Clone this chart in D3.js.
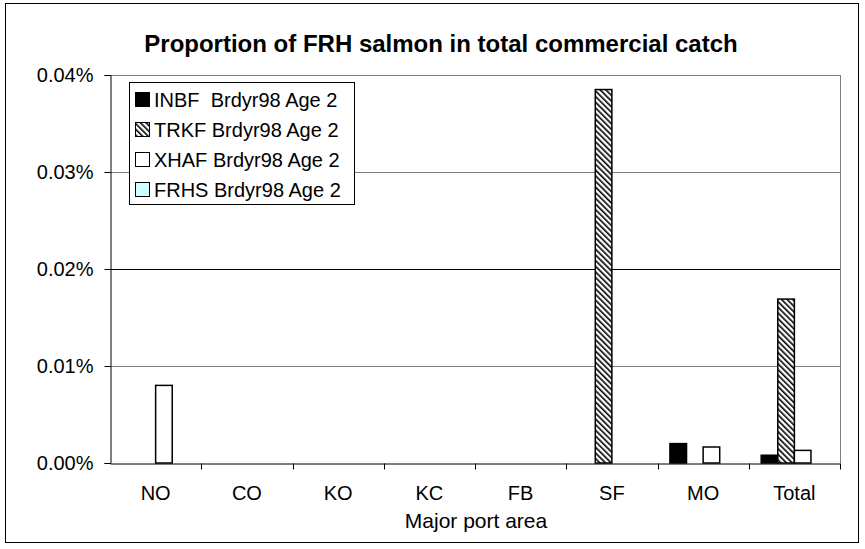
<!DOCTYPE html>
<html><head>
<meta charset="utf-8">
<title>Proportion of FRH salmon in total commercial catch</title>
<script src="https://cdnjs.cloudflare.com/ajax/libs/d3/7.8.5/d3.min.js"></script>
<style>
body { margin: 0; background: #fff; }
text { font-family: Arial, "Liberation Sans", sans-serif; }
</style>
</head>
<body>
<div id="chart"></div>
<script>
// values are proportions in percent
const ports = ["NO", "CO", "KO", "KC", "FB", "SF", "MO", "Total"];
const seriesNames = ["INBF  Brdyr98 Age 2", "TRKF Brdyr98 Age 2", "XHAF Brdyr98 Age 2", "FRHS Brdyr98 Age 2"];
const inbf = [0, 0, 0, 0, 0, 0, 0.0020, 0.0008];
const trkf = [0, 0, 0, 0, 0, 0.0385, 0, 0.0169];
const xhaf = [0.0080, 0, 0, 0, 0, 0, 0.00165, 0.0013];
const frhs = [0, 0, 0, 0, 0, 0, 0, 0];
const yTicks = [0, 0.01, 0.02, 0.03, 0.04];

const W = 865, H = 549;
const margin = {left: 110, right: 25, top: 75, bottom: 86};

const svg = d3.select("#chart").append("svg")
    .attr("width", W).attr("height", H);

// hatch for TRKF
const defs = svg.append("defs");
const pat = defs.append("pattern")
    .attr("id", "hatch")
    .attr("patternUnits", "userSpaceOnUse")
    .attr("width", 4).attr("height", 4)
    .attr("patternTransform", "rotate(-45)");
pat.append("rect").attr("width", 4).attr("height", 4).attr("fill", "#fff");
pat.append("rect").attr("width", 1.6).attr("height", 4).attr("fill", "#000");

const fills = ["#000", "url(#hatch)", "#fff", "#ccffff"];
const data = [inbf, trkf, xhaf, frhs];

// outer frame
svg.append("rect")
    .attr("x", 5.5).attr("y", 3.5).attr("width", 853).attr("height", 539)
    .attr("fill", "#fff").attr("stroke", "#000").attr("stroke-width", 1);

const x = d3.scaleBand()
    .domain(ports)
    .range([margin.left, W - margin.right]);
const x1 = d3.scaleBand()
    .domain(d3.range(4))
    .range([x.bandwidth() * 0.75 / 5.5, x.bandwidth() - x.bandwidth() * 0.75 / 5.5]);

const y = d3.scaleLinear()
    .domain([0, 0.04])
    .range([H - margin.bottom, margin.top]);

// gridlines
svg.append("g")
  .selectAll("line")
  .data(yTicks.slice(1))
  .join("line")
    .attr("x1", margin.left).attr("x2", W - margin.right)
    .attr("y1", d => Math.round(y(d)) + 0.5).attr("y2", d => Math.round(y(d)) + 0.5)
    .attr("stroke", d => d === 0.02 ? "#000" : "#808080");

// right frame of plot area
svg.append("line")
    .attr("x1", W - margin.right + 0.5).attr("x2", W - margin.right + 0.5)
    .attr("y1", y(0.04)).attr("y2", y(0))
    .attr("stroke", "#808080");

// bars
const groups = svg.append("g")
  .selectAll("g")
  .data(data)
  .join("g")
    .attr("fill", (d, i) => fills[i]);

groups.selectAll("rect")
  .data((d, i) => d.map((v, j) => ({v, j, i})).filter(o => o.v > 0))
  .join("rect")
    .attr("x", d => x(ports[d.j]) + x1(d.i))
    .attr("width", x1.bandwidth())
    .attr("y", d => y(d.v))
    .attr("height", d => y(0) - y(d.v))
    .attr("stroke", "#000")
    .attr("stroke-width", 1.5);

// y axis
const yAxis = d3.axisLeft(y)
    .tickValues(yTicks)
    .tickSize(6)
    .tickPadding(11)
    .tickFormat(d => d.toFixed(2) + "%");
svg.append("g")
    .attr("transform", `translate(${margin.left + 0.5},0)`)
    .call(yAxis)
    .call(g => g.select(".domain").attr("stroke", "#000"))
    .call(g => g.selectAll("text").attr("font-size", 20).attr("fill", "#000"))
    .call(g => g.selectAll(".tick line").attr("stroke", "#000"));

// x axis
const xAxis = d3.axisBottom(x).tickSize(0).tickPadding(22);
const xg = svg.append("g")
    .attr("transform", `translate(0,${y(0) + 0.5})`)
    .call(xAxis)
    .call(g => g.select(".domain").attr("stroke", "#000"))
    .call(g => g.selectAll("text").attr("font-size", 20).attr("fill", "#000"));
xg.selectAll(".sep")
  .data(ports.slice(1).concat(["end"]))
  .join("line")
    .attr("class", "sep")
    .attr("x1", d => d === "end" ? W - margin.right + 0.5 : Math.round(x(d)) + 0.5)
    .attr("x2", d => d === "end" ? W - margin.right + 0.5 : Math.round(x(d)) + 0.5)
    .attr("y1", 0).attr("y2", 6)
    .attr("stroke", "#000");

// title and axis label
svg.append("text")
    .attr("x", 441).attr("y", 52)
    .attr("text-anchor", "middle")
    .attr("font-size", 24).attr("font-weight", "bold")
    .text("Proportion of FRH salmon in total commercial catch");

svg.append("text")
    .attr("x", 476).attr("y", 528)
    .attr("text-anchor", "middle")
    .attr("font-size", 21)
    .text("Major port area");

// legend
const lg = svg.append("g").attr("transform", "translate(129,82)");
lg.append("rect")
    .attr("x", 0.5).attr("y", 0.5).attr("width", 225).attr("height", 122)
    .attr("fill", "#fff").attr("stroke", "#000");
const item = lg.selectAll(".item")
  .data(seriesNames)
  .join("g")
    .attr("class", "item")
    .attr("transform", (d, i) => `translate(0,${17.5 + i * 30})`);
item.append("rect")
    .attr("x", 6.5).attr("y", -7).attr("width", 14).attr("height", 14)
    .attr("fill", (d, i) => fills[i])
    .attr("stroke", "#000");
item.append("text")
    .attr("x", 25).attr("y", 7)
    .attr("font-size", 20)
    .attr("xml:space", "preserve")
    .style("white-space", "pre")
    .text(d => d);
</script>
</body>
</html>
